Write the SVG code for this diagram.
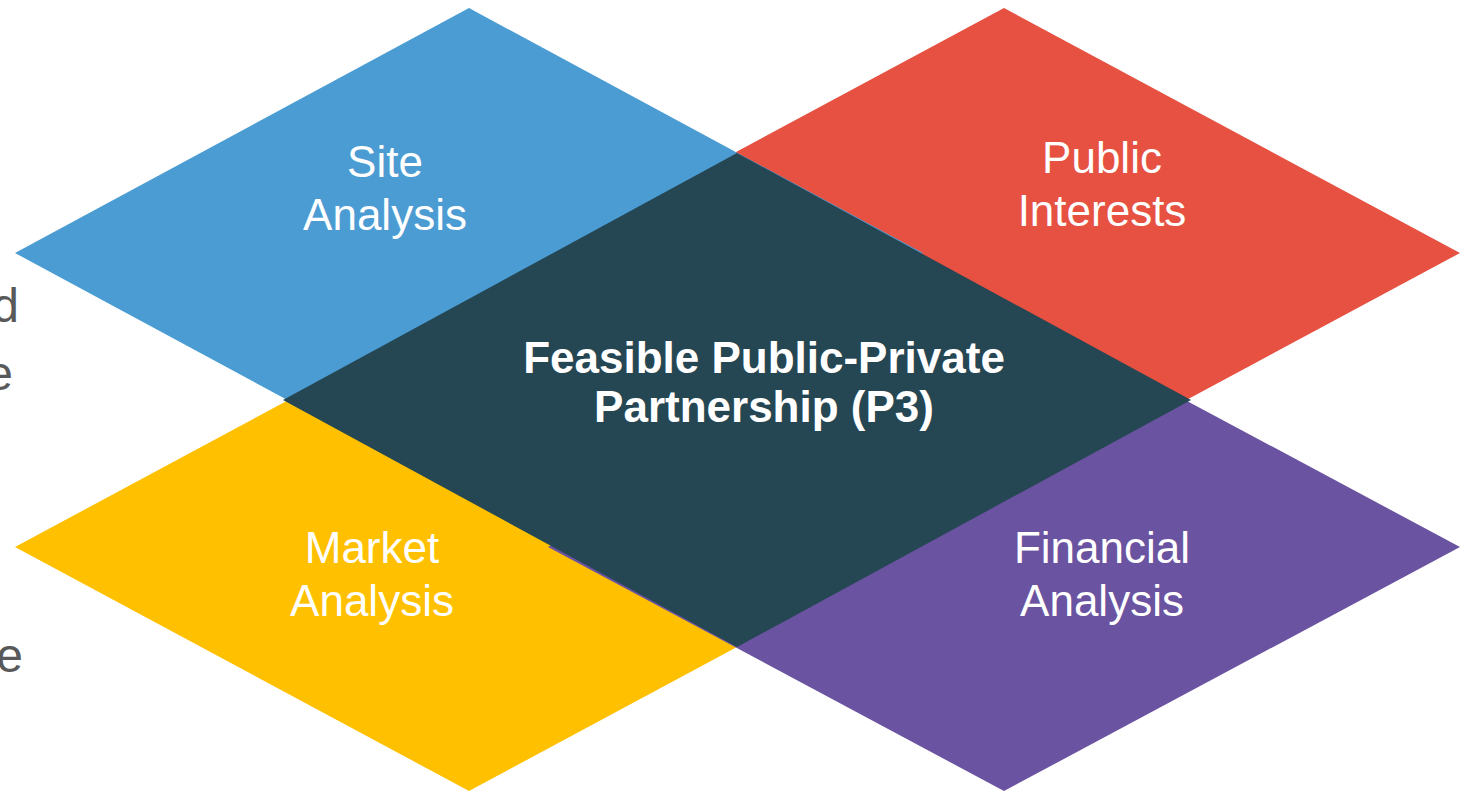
<svg xmlns="http://www.w3.org/2000/svg" width="1465" height="792" viewBox="0 0 1465 792">
  <style>
    .lbl { font-family: "Liberation Sans", Arial, sans-serif; font-size: 44px; fill: #FFFFFF; text-anchor: middle; }
    .ctr { font-family: "Liberation Sans", Arial, sans-serif; font-size: 44px; font-weight: bold; fill: #FFFFFF; text-anchor: middle; }
    .side { font-family: "Liberation Sans", Arial, sans-serif; font-size: 48px; fill: #595959; text-anchor: end; }
  </style>
  <rect width="1465" height="792" fill="#FFFFFF"/>
  <g id="side-text">
    <text class="side" x="19" y="322">d</text>
    <text class="side" x="13" y="390">e</text>
    <text class="side" x="23" y="672">e</text>
  </g>
  <g id="market-analysis">
    <polygon points="469,303 923,547 469,791 15,547" fill="#FFC000"/>
    <text class="lbl" x="372" y="563">Market</text>
    <text class="lbl" x="372" y="616">Analysis</text>
  </g>
  <g id="financial-analysis">
    <polygon points="1004,303 1460,547 1004,791 548,547" fill="#6A53A0"/>
    <text class="lbl" x="1102" y="563">Financial</text>
    <text class="lbl" x="1102" y="616">Analysis</text>
  </g>
  <g id="public-interests">
    <polygon points="1004,8 1460,253 1004,498 548,253" fill="#E65142"/>
    <text class="lbl" x="1102" y="173">Public</text>
    <text class="lbl" x="1102" y="226">Interests</text>
  </g>
  <g id="site-analysis">
    <polygon points="469,8 923,253 469,498 15,253" fill="#4B9CD3"/>
    <text class="lbl" x="385" y="177">Site</text>
    <text class="lbl" x="385" y="230">Analysis</text>
  </g>
  <g id="feasible-p3">
    <polygon points="737,153 1191,400 737,647 283,400" fill="#254653"/>
    <text class="ctr" x="764" y="373">Feasible Public-Private</text>
    <text class="ctr" x="764" y="422">Partnership (P3)</text>
  </g>
  <g id="connectors"/>
</svg>
